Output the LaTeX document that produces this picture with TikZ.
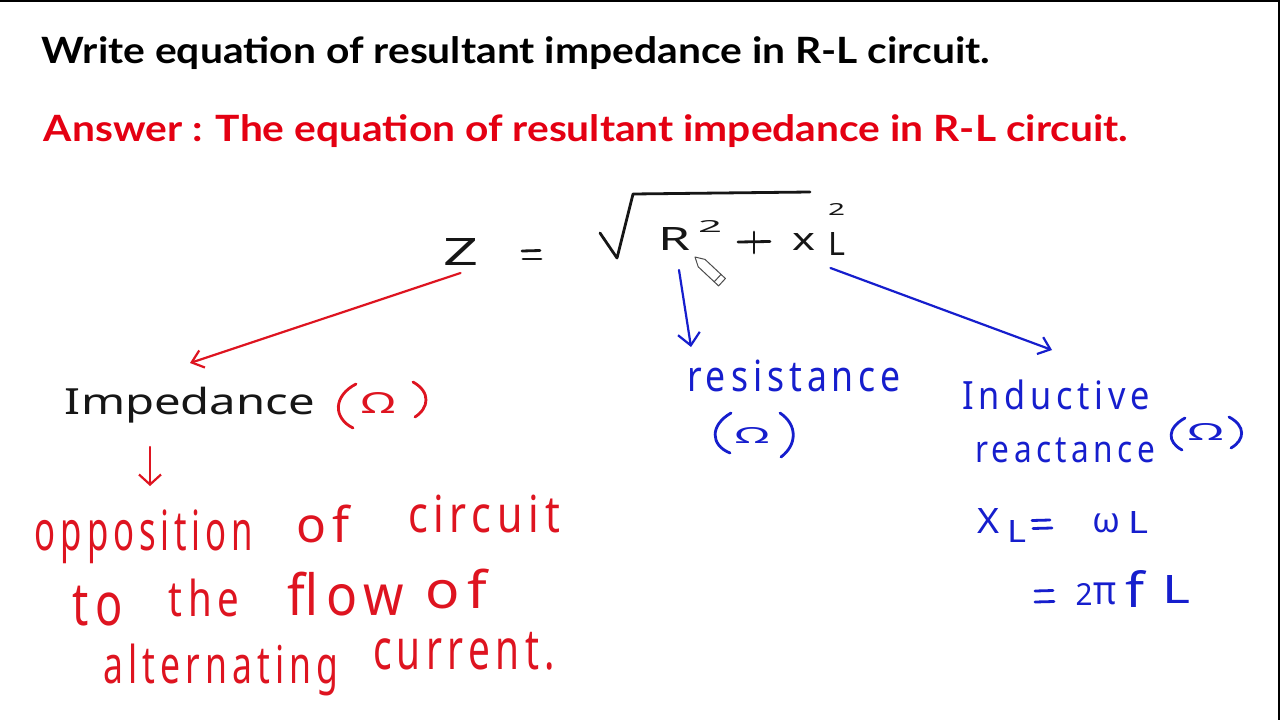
\documentclass[tikz,border=0pt]{standalone}
\usepackage{fontspec}
\usepackage{graphicx}
\usetikzlibrary{arrows.meta}
\newfontfamily\titlefont{Lato}
\newfontfamily\handfont{Noto Sans}
\newfontfamily\handwide{Noto Sans}[LetterSpace=14]
\definecolor{ansred}{RGB}{228,0,18}
\definecolor{handred}{RGB}{222,20,32}
\definecolor{handblue}{RGB}{22,30,205}
\definecolor{handblack}{RGB}{22,22,22}
\newcommand{\fitbox}[3]{\resizebox*{#1pt}{#2pt}{#3}}
\tikzset{
  hw/.style={inner sep=0pt, outer sep=0pt, anchor=center, font=\handfont\fontsize{36}{40}\selectfont},
  hword/.style={inner sep=0pt, outer sep=0pt, anchor=center, font=\handwide\fontsize{36}{40}\selectfont},
  hred/.style={hword, text=handred},
  hblue/.style={hword, text=handblue},
  sblue/.style={hw, text=handblue},
  sblack/.style={hw, text=handblack},
  headline/.style={inner sep=0pt, outer sep=0pt, anchor=center, font=\titlefont\bfseries\fontsize{30}{36}\selectfont},
  pen/.style={line width=2.8pt, line cap=round, line join=round},
  redarrow/.style={draw=handred, line width=2.2pt, line cap=round, -{Straight Barb[length=11pt,width=18pt,line width=2.2pt]}},
  bluearrow/.style={draw=handblue, line width=2.2pt, line cap=round, -{Straight Barb[length=11pt,width=18pt,line width=2.2pt]}},
}
\begin{document}
\begin{tikzpicture}[x=1pt,y=-1pt]
\useasboundingbox (0,0) rectangle (1280,720);
\fill[white] (0,0) rectangle (1280,720);
\fill[black] (0,0) rectangle (1280,1.5);
\fill[black] (1277.5,0) rectangle (1280,720);

% headings
\node[headline, text=black] (title) at (516,53.5) {\fitbox{948}{33}{Write equation of resultant impedance in R-L circuit.}};
\node[headline, text=ansred] (answer) at (586,131.5) {\fitbox{1084}{33}{Answer : The equation of resultant impedance in R-L circuit.}};

% formula
\node[sblack] (Z) at (460.5,251.5) {\fitbox{35}{27}{Z}};
\draw[pen, handblack] (522,251) -- (540,250.5);
\draw[pen, handblack] (523,259) -- (541,259);
\draw[pen, handblack] (600,233) -- (617,258) -- (633,194) -- (720,193) -- (810,192);
\node[sblack] (R) at (674,238.5) {\fitbox{32}{23}{R}};
\node[sblack] (sqa) at (710,226) {\fitbox{24}{12}{2}};
\draw[pen, handblack] (738,242) -- (770,241.5);
\draw[pen, handblack] (754,232) -- (754,253);
\node[sblack] (X) at (803.5,241.5) {\fitbox{23}{17}{x}};
\node[sblack] (sqb) at (836.5,209) {\fitbox{17}{12}{2}};
\node[sblack] (L) at (836.5,243.5) {\fitbox{17}{23}{L}};

% pencil cursor
\filldraw[fill=white, draw=black!70, line width=1pt, line join=round]
  (695,257) -- (705,259.4) -- (725.4,278.5) -- (718.6,285.9) -- (698.2,266.8) -- cycle;
\draw[black!70, line width=1pt] (714.2,281.8) -- (721,274.4);

% impedance branch
\node[sblack] (imp) at (190,405) {\fitbox{250}{36}{Impedance}};
\draw[pen, handred] (356,384) .. controls (333,396) and (333,418) .. (353,428);
\node[hw, text=handred] (iom) at (378,402.5) {\fitbox{34}{21}{Ω}};
\draw[pen, handred] (413,382) .. controls (431,392) and (429,408) .. (415,417);
\draw[redarrow] ([yshift=-8pt]Z.south) -- ([yshift=24pt]imp.north);

\node[hred] (opp) at (144,537) {\fitbox{218}{54}{opposition}};
\node[hred] (of1) at (323,524) {\fitbox{54}{38}{of}};
\node[hred] (circ) at (484,514) {\fitbox{152}{38}{circuit}};
\node[hred] (to) at (98,606) {\fitbox{50}{40}{to}};
\node[hred] (the) at (204,598) {\fitbox{70}{38}{the}};
\node[hred] (flow) at (346,594) {\fitbox{116}{44}{flow}};
\node[hred] (of2) at (456,589) {\fitbox{62}{40}{of}};
\node[hred] (alt) at (221,670) {\fitbox{234}{52}{alternating}};
\node[hred] (cur) at (464,651) {\fitbox{182}{38}{current.}};
\draw[redarrow, -{Straight Barb[length=10pt,width=22pt,line width=2.2pt]}] ([xshift=-40pt,yshift=-24pt]imp.south) -- ([xshift=6pt,yshift=24pt]opp.north);

% resistance branch
\node[hblue] (res) at (794,376) {\fitbox{214}{32}{resistance}};
\draw[pen, handblue] (731,413) .. controls (710,425) and (710,445) .. (730,453);
\node[sblue] (rom) at (752,435) {\fitbox{34}{16}{Ω}};
\draw[pen, handblue] (780,413) .. controls (798,425) and (797,445) .. (781,457);
\draw[bluearrow, -{Straight Barb[length=12pt,width=22pt,line width=2.2pt]}] ([xshift=5pt,yshift=-20pt]R.south) -- ([xshift=4pt,yshift=13pt]res.north west);

% reactance branch
\node[hblue] (ind) at (1056,395) {\fitbox{188}{30}{Inductive}};
\node[hblue] (rea) at (1065,450.5) {\fitbox{180}{25}{reactance}};
\draw[pen, handblue] (1185,418) .. controls (1167,428) and (1167,442) .. (1182,450);
\node[sblue] (xom) at (1205.5,431.5) {\fitbox{35}{17}{Ω}};
\draw[pen, handblue] (1229,417) .. controls (1246,426) and (1245,440) .. (1231,448);
\draw[bluearrow] ([xshift=-6pt,yshift=-13pt]L.south) -- ([xshift=-4pt,yshift=30pt]ind.north);

\node[sblue] (XL) at (988,520.5) {\fitbox{22}{25}{X}};
\node[sblue] (XLs) at (1016.5,531) {\fitbox{19}{22}{L}};
\draw[pen, handblue] (1032,520.5) -- (1050,520);
\draw[pen, handblue] (1033,528.5) -- (1052,528);
\node[sblue] (om) at (1106,523.5) {\fitbox{28}{19}{ω}};
\node[sblue] (L1) at (1138,522) {\fitbox{20}{22}{L}};
\draw[pen, handblue] (1035,591) -- (1053,590.5);
\draw[pen, handblue] (1035,602) -- (1054,601.5);
\node[sblue] (two) at (1084,594) {\fitbox{17}{22}{2}};
\node[sblue] (pi) at (1105,594) {\fitbox{23}{22}{π}};
\node[sblue] (f) at (1134.5,588.5) {\fitbox{19}{37}{f}};
\node[sblue] (L2) at (1176,589) {\fitbox{28}{28}{L}};
\end{tikzpicture}
\end{document}
